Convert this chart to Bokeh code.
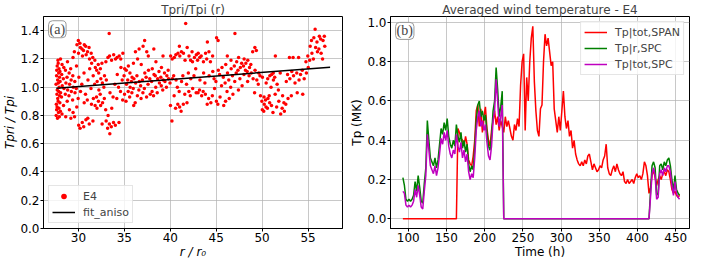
from bokeh.plotting import figure
from bokeh.layouts import row
from bokeh.models import FixedTicker, Label, Range1d, PrintfTickFormatter
from bokeh.embed import file_html
from bokeh.resources import INLINE

FONT = "DejaVu Sans"

# ---------------- panel (a): Tpri/Tpi vs r ----------------
e4_r = [
    27.58, 27.63, 27.60, 27.66, 27.57, 27.62, 27.64,
    27.72, 27.68, 27.75, 27.70, 27.74, 27.69, 27.77,
    27.83, 27.79, 27.86, 27.81, 27.85, 27.80,
    27.92, 27.88, 27.95, 27.90, 27.94, 27.89,
    28.03, 27.98, 28.06, 28.01, 27.99, 28.05,
    28.21, 28.16, 28.24, 28.18, 28.22,
    28.38, 28.43, 28.36, 28.41,
    28.62, 28.57, 28.64, 28.59,
    28.78, 28.83, 28.76, 28.81,
    29.02, 28.97, 29.04, 28.99,
    29.18, 29.23, 29.21, 29.16,
    29.42, 29.37, 29.44, 29.39, 29.41,
    29.58, 29.63, 29.61, 29.56,
    29.82, 29.77, 29.79, 29.84,
    30.03, 29.97, 30.05, 30.01, 29.99,
    30.18, 30.23, 30.21, 30.16,
    30.42, 30.37, 30.44, 30.39,
    30.58, 30.63, 30.61, 30.56, 30.64,
    30.82, 30.77, 30.84, 30.79,
    31.02, 30.97, 31.04, 30.99,
    31.18, 31.23, 31.21, 31.16,
    31.42, 31.37, 31.44, 31.39,
    31.58, 31.63, 31.61, 31.56,
    31.82, 31.77, 31.84, 31.79,
    32.02, 31.97, 32.04, 31.99,
    32.18, 32.23, 32.21, 32.16,
    32.42, 32.37, 32.44, 32.39,
    32.58, 32.63, 32.61, 32.56,
    32.82, 32.77, 32.84,
    33.02, 32.97, 33.04, 32.99,
    33.18, 33.23, 33.21,
    33.42, 33.37, 33.44, 33.39, 33.35,
    33.58, 33.63, 33.61,
    33.82, 33.77, 33.84,
    34.02, 33.97, 34.04,
    34.18, 34.23, 34.21,
    34.42, 34.37, 34.44,
    34.58, 34.63, 34.61,
    34.82, 34.77, 34.84,
    35.02, 34.97, 35.04,
    35.18, 35.23, 35.21,
    35.42, 35.37, 35.44,
    35.58, 35.63, 35.61,
    35.82, 35.77, 35.84,
    36.02, 35.97, 36.04, 35.99,
    36.18, 36.23, 36.21,
    36.42, 36.37, 36.44,
    36.58, 36.63, 36.61,
    36.82, 36.77, 36.84,
    37.02, 36.97, 37.04,
    37.18, 37.23, 37.21,
    37.42, 37.37, 37.44,
    37.58, 37.63, 37.61,
    37.82, 37.77,
    38.02, 37.97, 38.04,
    38.18, 38.23, 38.21,
    38.42, 38.37, 38.44,
    38.58, 38.63,
    38.82, 38.77,
    39.02, 38.97, 39.04,
    39.18, 39.23, 39.21,
    39.42, 39.37,
    39.58, 39.63,
    39.82, 39.77,
    40.02, 39.97, 40.04,
    40.18, 40.23, 40.21,
    40.42, 40.37, 40.44,
    40.58, 40.63, 40.61,
    40.82, 40.77, 40.84,
    41.02, 40.97, 41.04, 40.99,
    41.18, 41.23, 41.21,
    41.42, 41.37, 41.44,
    41.58, 41.68, 41.61,
    41.82, 41.77, 41.84,
    42.02, 41.97, 42.04,
    42.18, 42.23, 42.21,
    42.42, 42.37, 42.44,
    42.58, 42.63,
    42.82, 42.77, 42.84,
    43.02, 42.97, 43.04,
    43.18, 43.23, 43.21,
    43.42, 43.37,
    43.58, 43.63, 43.61,
    43.82, 43.77, 43.84,
    44.02, 43.97, 44.04,
    44.18, 44.23, 44.21,
    44.42, 44.37,
    44.58, 44.63, 44.61,
    44.82, 44.77,
    45.02, 44.97, 45.04,
    45.18, 45.23, 45.21,
    45.42, 45.37,
    45.58, 45.63,
    45.82, 45.77,
    46.02, 45.97, 46.04,
    46.18, 46.23, 46.21,
    46.42, 46.37,
    46.58, 46.63, 46.61,
    46.82, 46.77,
    47.02, 46.97, 47.04,
    47.18, 47.23,
    47.42, 47.37, 47.44,
    47.58, 47.63,
    47.82, 47.77,
    48.02, 47.97, 48.04,
    48.18, 48.23,
    48.42, 48.37, 48.44,
    48.58, 48.63,
    48.82, 48.77,
    49.02, 48.97,
    49.18, 49.23, 49.21,
    49.42, 49.37,
    49.58, 49.63,
    49.82, 49.77,
    50.02, 49.97, 50.04,
    50.18, 50.23, 50.21,
    50.42, 50.37, 50.44,
    50.58, 50.63, 50.61,
    50.82, 50.77, 50.84,
    51.02, 50.97, 51.04,
    51.18, 51.23, 51.21,
    51.42, 51.37, 51.44,
    51.58, 51.63,
    51.82, 51.77,
    52.02, 51.97,
    52.18, 52.23,
    52.42, 52.37,
    52.58, 52.63,
    52.82, 52.77,
    53.02, 52.97,
    53.18, 53.23,
    53.42, 53.37,
    53.58,
    53.82, 53.77,
    54.02, 53.97,
    54.18,
    54.42, 54.37,
    54.58,
    54.82, 54.77,
    55.02, 54.97,
    55.18, 55.23,
    55.42, 55.37,
    55.58, 55.63,
    55.82, 55.77,
    56.02, 55.97,
    56.18, 56.23,
    56.42, 56.37,
    56.58, 56.63,
    56.82, 56.77,
]
e4_tpr = [
    0.80, 0.84, 0.88, 0.95, 1.02, 1.08, 1.12,
    0.78, 0.86, 0.92, 0.98, 1.05, 1.15, 1.19,
    0.82, 0.90, 0.97, 1.03, 1.10, 1.17,
    0.79, 0.85, 0.94, 1.00, 1.07, 1.13,
    0.83, 0.89, 0.96, 1.04, 1.11, 1.20,
    0.81, 0.93, 1.01, 1.09, 1.16,
    0.87, 0.99, 1.06, 1.14,
    0.79, 0.95, 1.03, 1.12,
    0.90, 0.98, 1.07, 1.18,
    0.84, 0.94, 1.02, 1.10,
    0.78, 0.97, 1.05, 1.13,
    0.82, 0.91, 1.00, 1.08, 1.21,
    0.79, 0.96, 1.04, 1.25,
    0.86, 0.99, 1.15, 1.30,
    0.73, 0.92, 1.07, 1.24, 1.33,
    0.71, 0.97, 1.28, 1.31,
    0.75, 1.02, 1.22, 1.27,
    0.72, 0.89, 1.10, 1.26, 1.30,
    0.77, 0.95, 1.23, 1.29,
    0.78, 0.91, 1.05, 1.25,
    0.74, 1.13, 1.20, 1.28,
    0.88, 0.99, 1.17, 1.24,
    0.76, 0.92, 1.08, 1.21,
    0.87, 1.02, 1.14, 1.19,
    0.85, 0.93, 1.04, 1.12,
    0.90, 0.98, 1.10, 1.16,
    0.87, 0.95, 1.06, 1.13,
    0.74, 0.89, 1.03, 1.17,
    0.92, 1.00, 1.08,
    0.76, 0.84, 1.05, 1.18,
    0.71, 0.80, 1.21,
    0.67, 0.74, 0.96, 1.22, 1.38,
    0.72, 0.85, 1.19,
    0.75, 0.93, 1.23,
    0.73, 1.02, 1.20,
    0.92, 1.09, 1.21,
    0.75, 1.00, 1.22,
    0.97, 1.14, 1.20,
    0.91, 1.05, 1.24,
    0.95, 1.08, 1.13,
    0.90, 1.02, 1.12,
    0.97, 1.05, 1.15,
    0.93, 1.00, 1.10,
    0.96, 1.04, 1.07,
    0.87, 0.99, 1.06, 1.17,
    0.89, 1.03, 1.25,
    0.94, 1.08, 1.20,
    0.98, 1.04, 1.27,
    0.92, 1.01, 1.16,
    0.96, 1.05, 1.29,
    0.99, 1.10, 1.33,
    0.93, 1.07, 1.25,
    1.02, 1.12, 1.22,
    0.95, 1.06,
    0.97, 1.04, 1.13,
    0.94, 1.09, 1.27,
    1.00, 1.08, 1.18,
    0.96, 1.06,
    1.03, 1.11,
    1.01, 1.07, 1.14,
    0.98, 1.05, 1.22,
    1.04, 1.10,
    1.00, 1.08,
    1.06, 1.12,
    0.87, 1.03, 1.22,
    0.76, 1.06, 1.20,
    0.94, 1.08, 1.21,
    0.85, 1.05, 1.23,
    0.88, 1.00, 1.24,
    0.86, 0.97, 1.22, 1.29,
    0.83, 1.04, 1.25,
    0.88, 1.08, 1.24,
    0.95, 1.45, 1.19,
    0.89, 1.02, 1.28,
    0.97, 1.10, 1.22,
    0.94, 1.06, 1.19,
    1.18, 1.25, 0.99,
    1.08, 1.21,
    0.96, 1.13, 1.23,
    0.96, 1.19, 1.24,
    0.98, 1.05, 1.21,
    0.94, 1.22,
    0.97, 1.10, 1.18,
    0.95, 1.03, 1.24,
    0.88, 1.20, 1.32,
    0.92, 1.08, 1.25,
    0.89, 1.18,
    0.94, 1.11, 1.22,
    0.99, 1.06,
    0.90, 1.04, 1.35,
    0.88, 1.12, 1.33,
    0.93, 1.09,
    1.01, 1.14,
    0.87, 1.07,
    0.90, 1.03, 1.16,
    0.97, 1.10, 1.22,
    0.92, 1.05,
    1.00, 1.13, 1.19,
    0.95, 1.08,
    1.04, 1.15, 1.38,
    1.10, 1.18,
    0.98, 1.12, 1.21,
    1.06, 1.14,
    1.01, 1.17,
    1.09, 1.15, 1.20,
    1.12, 1.17,
    1.04, 1.11, 1.19,
    1.08, 1.14,
    1.10, 1.16,
    1.06, 1.25,
    0.96, 1.12, 1.28,
    1.05, 1.26,
    1.02, 1.10,
    0.94, 1.08,
    0.84, 0.90, 1.07,
    0.83, 0.88, 0.93,
    0.86, 0.91, 1.03,
    0.85, 0.92, 1.06,
    0.89, 0.94, 1.08,
    0.87, 1.00, 1.09,
    0.82, 1.05, 1.10,
    0.95, 1.07, 1.22,
    0.86, 1.02,
    0.90, 0.98,
    0.81, 1.10,
    0.85, 0.94,
    0.83, 0.89,
    0.88, 1.04,
    0.92, 1.09,
    1.06, 1.21,
    0.94, 1.11,
    1.08, 1.21,
    1.03,
    0.96, 1.10,
    1.05, 1.21,
    1.09,
    0.95, 1.12,
    1.06,
    1.10, 1.18,
    1.14, 1.22,
    1.19, 1.29,
    1.24, 1.33,
    1.20, 1.35,
    1.28, 1.41,
    1.25, 1.32,
    1.27, 1.36,
    1.24, 1.34,
    1.20, 1.33,
    1.29, 1.36,
]
fit_r = [27.6, 57.4]
fit_tpr = [0.993, 1.141]

r_ticks = [30, 35, 40, 45, 50, 55]
tpr_ticks = [0.0, 0.2, 0.4, 0.6, 0.8, 1.0, 1.2, 1.4]

# ---------------- panel (b): wind temperature vs time ----------------
span_t_zero = [93, 163]
span_t0 = 165
tp_span = [
    0.46, 0.44, 0.41, 0.40, 0.37, 0.42, 0.38, 0.30, 0.28, 0.27,
    0.32, 0.40, 0.55, 0.58, 0.47, 0.56, 0.44, 0.52, 0.57, 0.46,
    0.40, 0.37, 0.45, 0.50, 0.55, 0.48, 0.52, 0.45, 0.50, 0.47,
    0.44, 0.52, 0.47, 0.50, 0.46, 0.42, 0.40, 0.48, 0.45, 0.51,
    0.47, 0.68, 0.80, 0.84, 0.45, 0.72, 0.60, 0.80, 0.92, 0.98,
    0.70, 0.55, 0.45, 0.42, 0.56, 0.58, 0.80, 0.94, 0.88, 0.92,
    0.85, 0.78, 0.80, 0.56, 0.50, 0.44, 0.52, 0.45, 0.55, 0.65,
    0.52, 0.46, 0.50, 0.42, 0.45, 0.36, 0.40, 0.33, 0.30, 0.28,
    0.27, 0.29, 0.27, 0.30, 0.28, 0.32, 0.33, 0.29, 0.25, 0.28,
    0.26, 0.24, 0.25, 0.27, 0.26, 0.30, 0.32, 0.38, 0.26, 0.23,
    0.22, 0.25, 0.27, 0.24, 0.28, 0.25, 0.23, 0.22, 0.24, 0.19,
    0.18, 0.20, 0.18, 0.19, 0.20, 0.18, 0.21, 0.23, 0.21, 0.22,
    0.20, 0.23, 0.29, 0.27, 0.22, 0.13, 0.16, 0.22, 0.25, 0.21,
    0.17, 0.20, 0.22, 0.20, 0.23, 0.24, 0.22, 0.25, 0.24, 0.20,
    0.15, 0.13, 0.14, 0.12, 0.11, 0.12,
]

spc_t0_a = 93
spc_gap_t = [225, 415]
spc_t0_b = 417
tp_r_spc_a = [
    0.21, 0.17, 0.10, 0.09, 0.10, 0.09, 0.10, 0.12, 0.19, 0.14,
    0.22, 0.16, 0.09, 0.08, 0.18, 0.26, 0.50, 0.40, 0.31, 0.29,
    0.27, 0.31, 0.26, 0.30, 0.38, 0.46, 0.43, 0.49, 0.45, 0.51,
    0.42, 0.38, 0.36, 0.40, 0.37, 0.48, 0.42, 0.39, 0.44, 0.36,
    0.40, 0.34, 0.38, 0.28, 0.24, 0.27, 0.25, 0.36, 0.50, 0.58,
    0.60, 0.52, 0.55, 0.50, 0.53, 0.44, 0.37, 0.35, 0.42, 0.55,
    0.60, 0.77, 0.66, 0.52, 0.57, 0.65,
]
tp_r_spc_b = [
    0.14, 0.27, 0.29, 0.26, 0.12, 0.13, 0.27, 0.28, 0.25, 0.29,
    0.27, 0.30, 0.31, 0.27, 0.20, 0.14, 0.22, 0.15, 0.13, 0.12,
]
tp_tot_spc_a = [
    0.14, 0.13, 0.07, 0.06, 0.07, 0.06, 0.07, 0.09, 0.15, 0.11,
    0.17, 0.12, 0.06, 0.05, 0.14, 0.22, 0.43, 0.35, 0.27, 0.25,
    0.23, 0.27, 0.22, 0.26, 0.33, 0.41, 0.38, 0.44, 0.40, 0.45,
    0.37, 0.33, 0.31, 0.35, 0.33, 0.43, 0.37, 0.34, 0.39, 0.31,
    0.35, 0.29, 0.33, 0.24, 0.20, 0.23, 0.21, 0.31, 0.45, 0.52,
    0.55, 0.47, 0.50, 0.45, 0.48, 0.39, 0.32, 0.30, 0.37, 0.50,
    0.55, 0.71, 0.60, 0.47, 0.52, 0.58,
]
tp_tot_spc_b = [
    0.11, 0.23, 0.26, 0.22, 0.10, 0.11, 0.23, 0.25, 0.22, 0.26,
    0.24, 0.27, 0.27, 0.24, 0.17, 0.12, 0.19, 0.13, 0.11, 0.10,
]

time_ticks = [100, 150, 200, 250, 300, 350, 400, 450]
tp_ticks = [0.0, 0.2, 0.4, 0.6, 0.8, 1.0]


def hours(t0, n):
    return [t0 + 2 * i for i in range(n)]


span_t = span_t_zero + hours(span_t0, len(tp_span))
span_v = [0.0, 0.0] + tp_span
spc_t = hours(spc_t0_a, len(tp_r_spc_a)) + spc_gap_t + hours(spc_t0_b, len(tp_r_spc_b))
r_spc_v = tp_r_spc_a + [0.0, 0.0] + tp_r_spc_b
tot_spc_v = tp_tot_spc_a + [0.0, 0.0] + tp_tot_spc_b


def style(p, xticks, yticks):
    p.background_fill_color = "white"
    p.border_fill_color = "white"
    p.outline_line_color = "black"
    p.outline_line_width = 1
    p.outline_line_alpha = 1
    p.xaxis.ticker = FixedTicker(ticks=xticks)
    p.yaxis.ticker = FixedTicker(ticks=yticks)
    p.yaxis.formatter = PrintfTickFormatter(format="%.1f")
    for ax in (p.xaxis[0], p.yaxis[0]):
        ax.axis_line_color = "black"
        ax.major_tick_line_color = "black"
        ax.minor_tick_line_color = None
        ax.major_tick_out = 3
        ax.major_tick_in = 0
        ax.major_label_text_font = FONT
        ax.major_label_text_font_size = "12px"
        ax.major_label_text_color = "black"
        ax.major_label_text_line_height = 1.0
        ax.axis_label_text_font = FONT
        ax.axis_label_text_font_size = "12px"
        ax.axis_label_text_color = "black"
        ax.axis_label_text_line_height = 1.0
        ax.axis_label_text_font_style = "normal"
        ax.major_label_standoff = 1
        ax.axis_label_standoff = 0
    p.grid.grid_line_color = "#b0b0b0"
    p.grid.grid_line_alpha = 0.7
    p.grid.grid_line_width = 1
    p.title.text_font = FONT
    p.title.text_font_size = "12px"
    p.title.text_font_style = "normal"
    p.title.text_line_height = 1.0
    p.title.align = "center"
    p.title.standoff = 0


def style_legend(lg):
    lg.border_line_color = "#cccccc"
    lg.border_line_width = 1
    lg.background_fill_alpha = 0.8
    lg.label_text_font = FONT
    lg.label_text_font_size = "11px"
    lg.glyph_width = 23
    lg.glyph_height = 14
    lg.label_height = 14
    lg.spacing = 2
    lg.padding = 3
    lg.margin = 5
    lg.label_standoff = 8


# ---- left figure
p1 = figure(width=344, height=261, output_backend="svg", toolbar_location=None,
            x_range=Range1d(26.2, 58.75), y_range=Range1d(0, 1.5),
            min_border_left=38, min_border_right=2, min_border_top=12,
            min_border_bottom=10, title="Tpri/Tpi (r)")
style(p1, r_ticks, tpr_ticks)
p1.xaxis.axis_label = "r / r₀"
p1.xaxis.axis_label_text_font_style = "italic"
p1.yaxis.axis_label = "Tpri / Tpi"
p1.yaxis.axis_label_text_font_style = "italic"
p1.scatter(e4_r, e4_tpr, size=3.5, fill_color="red", line_color=None, legend_label="E4")
p1.line(fit_r, fit_tpr, line_color="black", line_width=1.5, legend_label="fit_aniso")
p1.legend.location = "bottom_left"
style_legend(p1.legend[0])
p1.add_layout(Label(x=26.75, y=1.47, text="(a)", text_font="Liberation Serif",
                    text_font_size="14px", text_baseline="top",
                    border_line_color="#999999", border_line_width=1,
                    background_fill_color="white", padding=1, border_radius=4))

# ---- right figure
p2 = figure(width=346, height=261, output_backend="svg", toolbar_location=None,
            x_range=Range1d(76.8, 468.0), y_range=Range1d(-0.049, 1.03),
            min_border_left=46, min_border_right=1, min_border_top=12,
            min_border_bottom=10, title="Averaged wind temperature - E4")
style(p2, time_ticks, tp_ticks)
p2.xaxis.axis_label = "Time (h)"
p2.yaxis.axis_label = "Tp (MK)"
p2.line(span_t, span_v, line_color="#ff0000", line_width=1.5, legend_label="Tp|tot,SPAN")
p2.line(spc_t, r_spc_v, line_color="#008000", line_width=1.5, legend_label="Tp|r,SPC")
p2.line(spc_t, tot_spc_v, line_color="#bf00bf", line_width=1.5, legend_label="Tp|tot,SPC")
p2.legend.location = "top_right"
style_legend(p2.legend[0])
p2.add_layout(Label(x=83.5, y=1.0, text="(b)", text_font="Liberation Serif",
                    text_font_size="14px", text_baseline="top",
                    border_line_color="#999999", border_line_width=1,
                    background_fill_color="white", padding=1, border_radius=4))

layout = row(p1, p2)
open("out.html", "w").write(file_html(layout, INLINE))
